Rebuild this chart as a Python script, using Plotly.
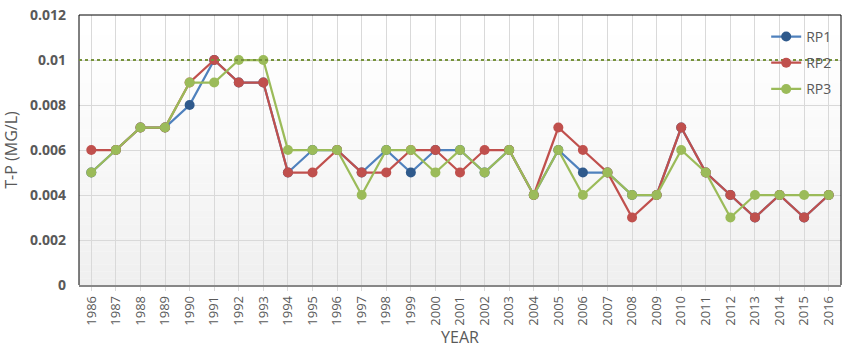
import plotly.graph_objects as go

years = [str(y) for y in range(1986, 2017)]
rp1 = [0.005, 0.006, 0.007, 0.007, 0.008, 0.010, 0.009, 0.009, 0.005, 0.006,
       0.006, 0.005, 0.006, 0.005, 0.006, 0.006, 0.005, 0.006, 0.004, 0.006,
       0.005, 0.005, 0.004, 0.004, 0.007, 0.005, 0.004, 0.003, 0.004, 0.003, 0.004]
rp2 = [0.006, 0.006, 0.007, 0.007, 0.009, 0.010, 0.009, 0.009, 0.005, 0.005,
       0.006, 0.005, 0.005, 0.006, 0.006, 0.005, 0.006, 0.006, 0.004, 0.007,
       0.006, 0.005, 0.003, 0.004, 0.007, 0.005, 0.004, 0.003, 0.004, 0.003, 0.004]
rp3 = [0.005, 0.006, 0.007, 0.007, 0.009, 0.009, 0.010, 0.010, 0.006, 0.006,
       0.006, 0.004, 0.006, 0.006, 0.005, 0.006, 0.005, 0.006, 0.004, 0.006,
       0.004, 0.005, 0.004, 0.004, 0.006, 0.005, 0.003, 0.004, 0.004, 0.004, 0.004]
standard = 0.01

series = [
    ("RP1", rp1, "#4F81BD", "#2F5A8C"),
    ("RP2", rp2, "#C0504D", "#C0504D"),
    ("RP3", rp3, "#9BBB59", "#9BBB59"),
]

FONT = "Open Sans, Liberation Sans, Arial, sans-serif"

fig = go.Figure()
for name, vals, lc, mc in series:
    fig.add_trace(go.Scatter(
        x=years, y=vals, name=name, mode="lines+markers", legendgroup=name,
        line=dict(color=lc, width=2.25),
        marker=dict(color=mc, size=10, line=dict(width=0)),
    ))

# background gradient (white -> light grey)
shapes = []
n = 40
for i in range(n):
    t = i / (n - 1)
    v = int(round(255 - (255 - 239) * (1 - t) ** 1.3))
    shapes.append(dict(type="rect", xref="x domain", yref="y domain",
                       x0=0, x1=1, y0=i / n, y1=(i + 1) / n,
                       fillcolor=f"rgb({v},{v},{v})", line=dict(width=0),
                       layer="below"))
# border (top, left, right)
for (x0, x1, y0, y1) in [(0, 0, 0, 1), (1, 1, 0, 1), (0, 1, 1, 1)]:
    shapes.append(dict(type="line", xref="x domain", yref="y domain",
                       x0=x0, x1=x1, y0=y0, y1=y1,
                       line=dict(color="black", width=1)))
# standard line
shapes.append(dict(type="line", xref="x domain", yref="y",
                   x0=0, x1=1, y0=standard, y1=standard,
                   line=dict(color="#77933C", width=2, dash="dot"),
                   layer="above"))

fig.update_layout(
    width=852, height=355,
    margin=dict(l=79, r=11, t=15, b=70),
    paper_bgcolor="white",
    plot_bgcolor="rgba(0,0,0,0)",
    font=dict(family=FONT, color="#595959"),
    shapes=shapes,
    showlegend=True,
    legend=dict(x=0.995, y=0.978, xanchor="right", yanchor="top",
                bgcolor="rgba(0,0,0,0)", font=dict(size=14, color="#595959"),
                tracegroupgap=5, itemwidth=30),
    xaxis=dict(
        type="category", range=[-0.5, 30.5], automargin=False,
        tickangle=-90, tickfont=dict(size=13, color="#595959"),
        showgrid=True, gridcolor="#D9D9D9", gridwidth=1,
        showline=True, linecolor="#878787", linewidth=1.5,
        ticks="outside", ticklen=4, tickcolor="#D9D9D9",
        title=dict(text="YEAR", font=dict(size=16, color="#595959"), standoff=6),
    ),
    yaxis=dict(
        range=[0, 0.012], dtick=0.002, tickformat="~g", automargin=False,
        tickfont=dict(size=14, color="#595959"),
        showgrid=True, gridcolor="#D9D9D9", gridwidth=1,
        zeroline=False, showline=False,
        ticks="", ticklabelstandoff=12,
        title=dict(text="T-P (MG/L)", font=dict(size=16, color="#595959"), standoff=8),
    ),
)
fig.update_yaxes(tickprefix="<b>", ticksuffix="</b>")

# remove the default 8px page margin so the figure fills the window exactly
fig.write_html("out.html", config={"displayModeBar": False},
               post_script="document.body.style.margin='0';")
